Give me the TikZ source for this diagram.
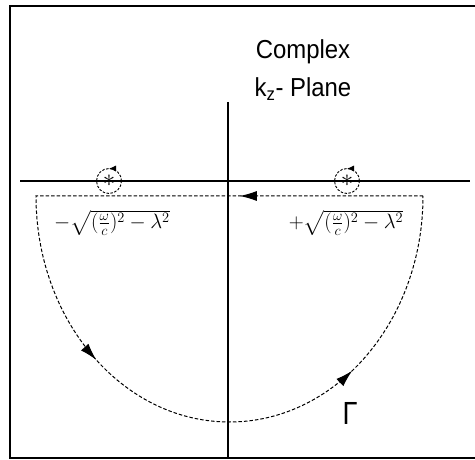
\documentclass[tikz,border=0pt]{standalone}
\usepackage{amsmath}
\usepackage{fontspec}
\setmainfont{Liberation Sans}
\usetikzlibrary{arrows.meta,decorations.markings}
\tikzset{
frame/.style={
line width=2.2pt
},
axis/.style={
line width=1.1pt
},
contour/.style={
dash pattern=on 3.5pt off 2pt,
line width=1pt
},
pole/.style={
inner sep=0pt,
font=\fontsize{30}{30}\selectfont
},
encircle/.style={
dash pattern=on 2.5pt off 1.5pt,
line width=0.9pt,
postaction={decorate},
decoration={markings,
mark=at position 0.25 with {\arrow[solid]{Latex[length=7pt,width=6pt]}}}
},
rootlabel/.style={
font=\fontsize{20.5}{20.5}\selectfont
}
}

\begin{document}
\begin{tikzpicture}[x=1pt,y=-1pt]
\useasboundingbox (0,0) rectangle (475,460);

% frame
\draw[frame] (476,6) -- (10,6) -- (10,458) -- (476,458);

% axes
\coordinate (vtop) at (228,102);
\coordinate (vbot) at (228,458);
\coordinate (hleft) at (20,181);
\coordinate (hright) at (470,181);
\draw[axis] (vtop) -- (vbot);
\draw[axis] (hleft) -- (hright);

\node[font=\fontsize{26}{38}\selectfont,align=center,xscale=0.92] (title) at (303,70) {Complex\\k\textsubscript{z}- Plane};

% poles
\node[pole] (pm) at (109,181) {$\ast$};
\node[pole] (pp) at (347,181) {$\ast$};
\foreach \p in {pm,pp}
\draw[encircle] (\p.center) ++(12.5,0) arc[start angle=0,end angle=-360,radius=12.5];

% contour
\coordinate (R) at (423,196);
\coordinate (L) at (36,196);
\draw[contour,postaction={decorate},
decoration={markings,
mark=at position 0.175 with {\arrow[solid]{Latex[length=17pt,width=10pt]}},
mark=at position 0.54 with {\arrow[solid]{Latex[length=17pt,width=10pt]}},
mark=at position 0.815 with {\arrow[solid]{Latex[length=17pt,width=10pt]}}}]
(R) -- (L) arc[start angle=180,end angle=0,x radius=193.5,y radius=226];

\node[rootlabel] (rm) at (112,223) {$-\sqrt{(\tfrac{\omega}{c})^{2}-\lambda^{2}}$};
\node[rootlabel] (rp) at (346,223) {$+\sqrt{(\tfrac{\omega}{c})^{2}-\lambda^{2}}$};

\node[font=\fontsize{32}{32}\selectfont,xscale=0.85] (gamma) at (350,413) {Γ};
\end{tikzpicture}
\end{document}
